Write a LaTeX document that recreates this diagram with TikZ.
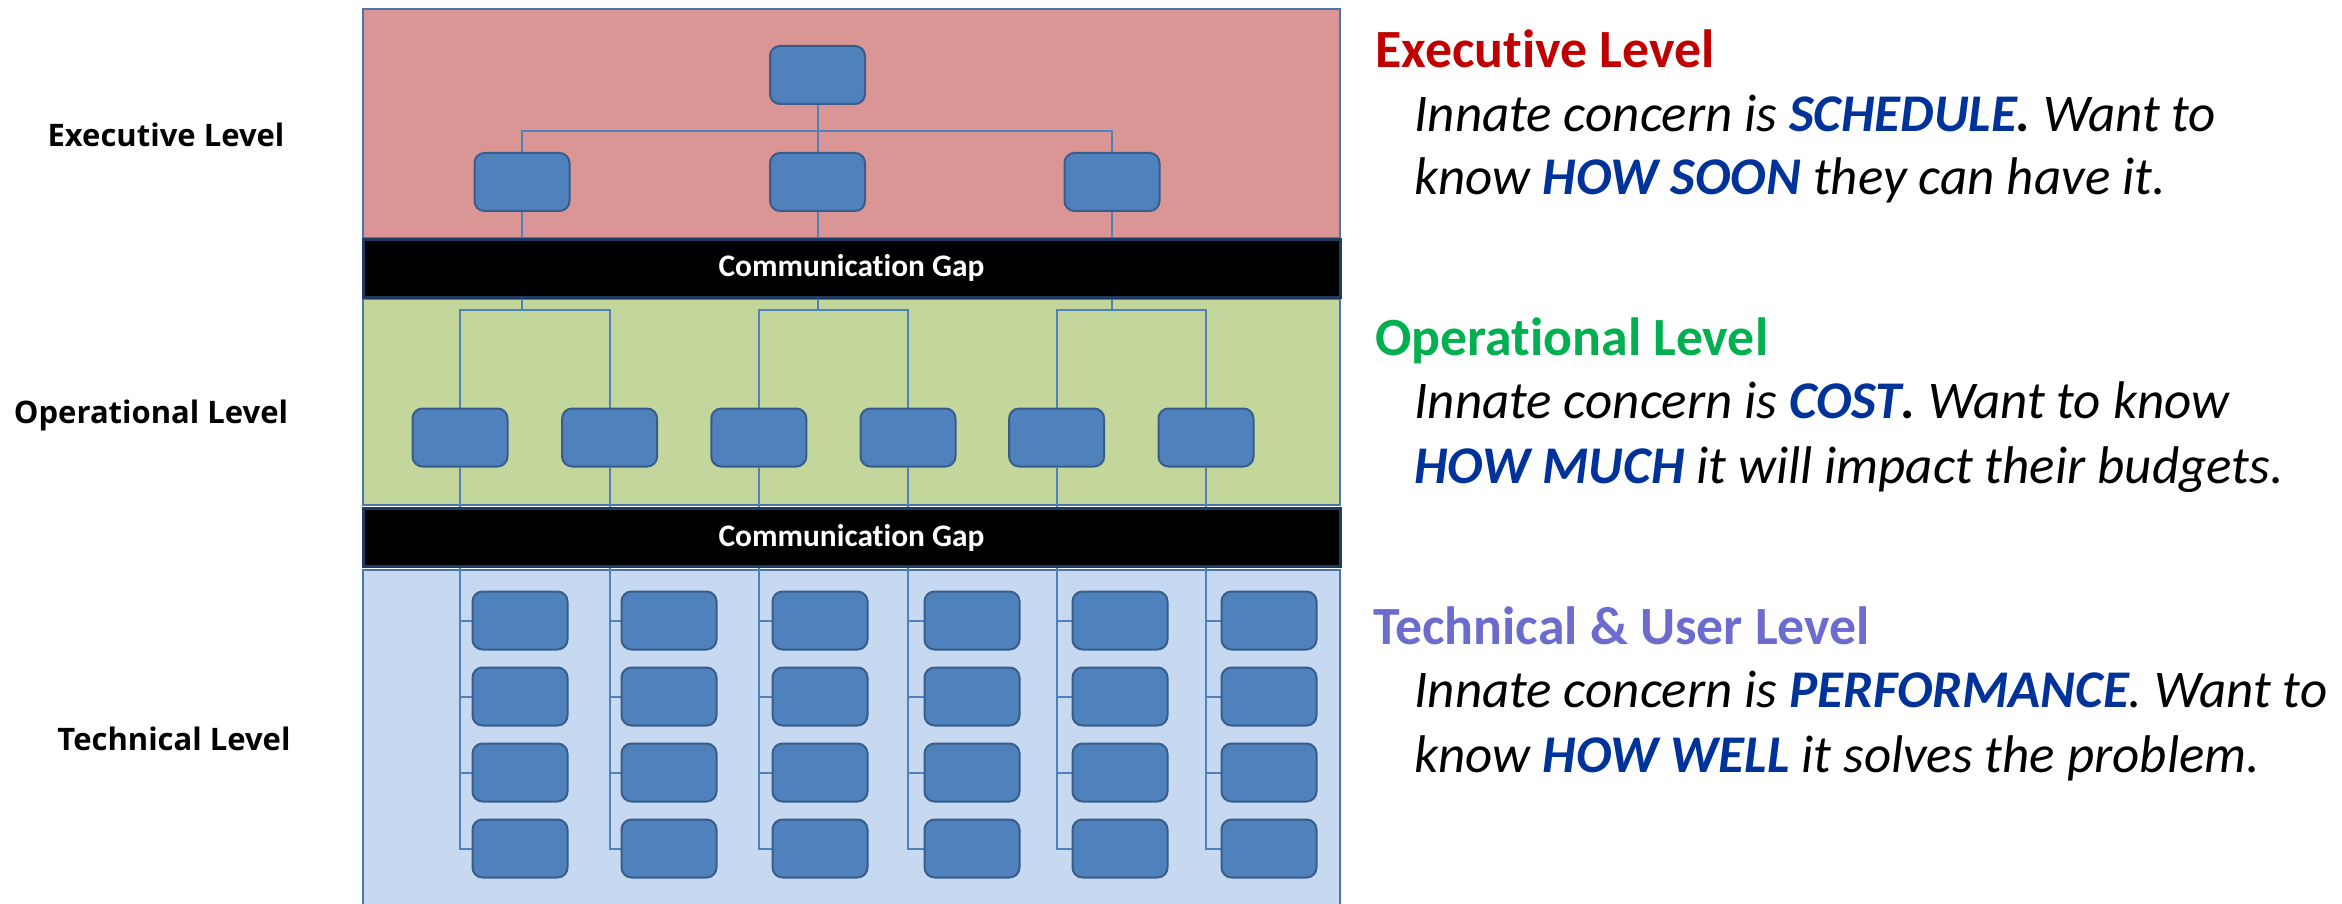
\documentclass[tikz,border=0pt]{standalone}
\usepackage{fontspec}
\setmainfont{Carlito}[Ligatures=NoCommon]
\newfontfamily\sidefont{Open Sans}
\definecolor{execfill}{HTML}{D99694}
\definecolor{opfill}{HTML}{C3D69B}
\definecolor{techfill}{HTML}{C6D9F0}
\definecolor{unitfill}{HTML}{4F81BD}
\definecolor{unitline}{HTML}{385D8A}
\definecolor{linkcol}{HTML}{4F81BD}
\definecolor{regionline}{HTML}{4A76AC}
\definecolor{barline}{HTML}{1F3B63}
\definecolor{execred}{HTML}{C00000}
\definecolor{opgreen}{HTML}{00B050}
\definecolor{techviolet}{RGB}{108,108,206}
\definecolor{emblue}{HTML}{003399}
\pgfdeclarelayer{regionlayer}
\pgfdeclarelayer{linklayer}
\pgfdeclarelayer{barlayer}
\pgfsetlayers{regionlayer,linklayer,barlayer,main}
\newcommand{\hl}[1]{{\bfseries\color{emblue}#1}}
\begin{document}
\begin{tikzpicture}[x=0.5pt,y=-0.5pt,
  region/.style={draw=regionline,line width=1pt},
  gapbar/.style={rectangle,fill=black,draw=barline,line width=1.5pt,text=white,
    minimum width=488.5pt,minimum height=29pt,inner sep=0pt,
    font=\bfseries\fontsize{15.7}{18}\selectfont},
  unit/.style={rectangle,rounded corners=5pt,fill=unitfill,draw=unitline,
    line width=1pt,minimum width=47.5pt,minimum height=29pt,inner sep=0pt},
  conn/.style={draw=linkcol,line width=1pt},
  sidelabel/.style={anchor=base,inner sep=0pt,font=\sidefont\bfseries\fontsize{15.5}{18}\selectfont},
  head/.style={anchor=base west,inner sep=0pt,font=\bfseries\fontsize{26.9}{32}\selectfont},
  body/.style={anchor=base west,inner sep=0pt,font=\itshape\fontsize{26.5}{32}\selectfont}]
\useasboundingbox (0,0) rectangle (2342,904);
\path[clip] (0,0) rectangle (2342,904);

% coloured level bands
\begin{pgfonlayer}{regionlayer}
  \fill[white] (0,0) rectangle (2342,904);
  \draw[region,fill=execfill] (363,9) rectangle (1340,238);
  \draw[region,fill=opfill] (363,299) rectangle (1340,505);
  \draw[region,fill=techfill] (363,570) rectangle (1340,920);
\end{pgfonlayer}

% executive boxes
\node[unit] (e0) at (817.5,75) {};
\node[unit] (e1) at (522,182) {};
\node[unit] (e2) at (817.5,182) {};
\node[unit] (e3) at (1112,182) {};

% operational boxes
\foreach \c/\x in {1/460,2/609.6,3/758.8,4/908,5/1056.6,6/1206}
  \node[unit] (o\c) at (\x,437.5) {};

% technical boxes
\foreach \c/\x in {1/520,2/669,3/820,4/972,5/1120,6/1269}
  \foreach \r/\y in {1/620.5,2/696.5,3/772.5,4/848.5}
    \node[unit] (t\c-\r) at (\x,\y) {};

\coordinate (ebus) at (0,131);
\coordinate (obus) at (0,310);

% reporting lines
\begin{pgfonlayer}{linklayer}
  \foreach \k in {1,2,3}
    \draw[conn] (e0.south) -- (e0.south |- ebus) -| (e\k.north);
  \foreach \p/\a/\b in {1/1/2,2/3/4,3/5/6}{
    \draw[conn] (e\p.south) -- (e\p.south |- obus) -| (o\a.north);
    \draw[conn] (e\p.south) -- (e\p.south |- obus) -| (o\b.north);
  }
  \foreach \c in {1,...,6}
    \foreach \r in {1,...,4}
      \draw[conn] (o\c.south) |- (t\c-\r.west);
\end{pgfonlayer}

% gaps between the levels
\begin{pgfonlayer}{barlayer}
  \node[gapbar] (gap1) at (851.5,268) {Communication Gap};
  \node[gapbar] (gap2) at (851.5,537.5) {Communication Gap};
\end{pgfonlayer}

% level names on the left
\node[sidelabel] (lblexec) at (166,147) {Executive Level};
\node[sidelabel] (lblop) at (151,423) {Operational Level};
\node[sidelabel] (lbltech) at (174,750) {Technical Level};

% concerns on the right
\node[head,text=execred] (exech) at (1375,68) {Executive Level};
\node[body] (execa) at (1414,132) {Innate concern is \hl{SCHEDULE}{\bfseries.} Want to};
\node[body] (execb) at (1414,195) {know \hl{HOW SOON} they can have it.};

\node[head,text=opgreen] (oph) at (1375,355) {Operational Level};
\node[body] (opa) at (1414,418) {Innate concern is \hl{COST}{\bfseries.} Want to know};
\node[body] (opb) at (1414,483) {\hl{HOW MUCH} it will impact their budgets.};

\node[head,text=techviolet] (techh) at (1373,644) {Technical \& User Level};
\node[body] (techa) at (1414,707) {Innate concern is \hl{PERFORMANCE}. Want to};
\node[body] (techb) at (1414,772) {know \hl{HOW WELL} it solves the problem.};
\end{tikzpicture}
\end{document}
